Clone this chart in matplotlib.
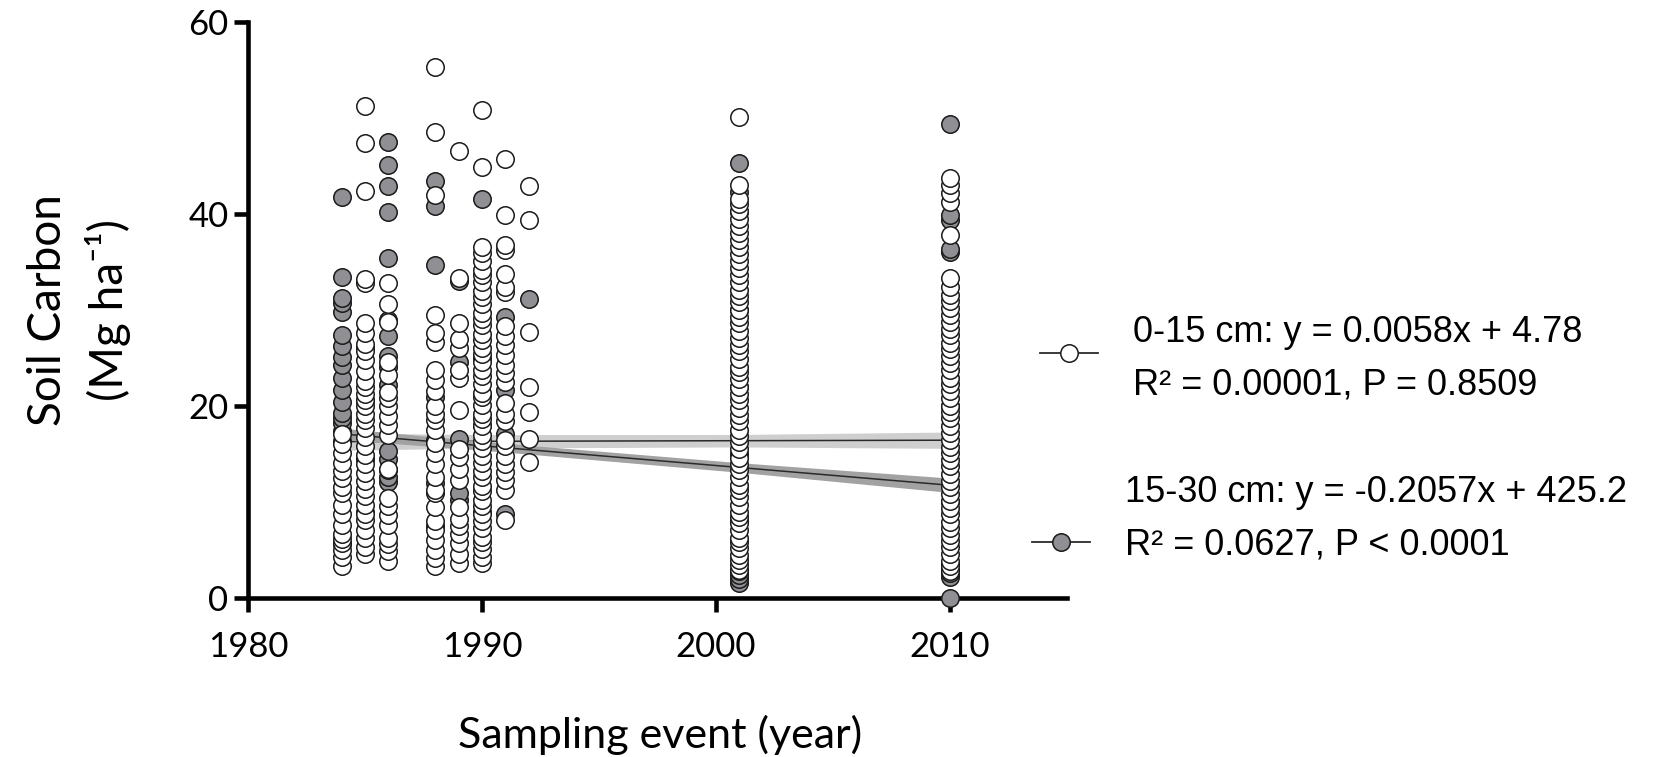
import matplotlib
matplotlib.use("Agg")
import matplotlib.pyplot as plt
import numpy as np

# ---- soil carbon (Mg ha-1) by sampling year, 0-15 cm depth ----
open_1984 = [3.3, 4.3, 5.0, 5.7, 6.1, 6.7, 7.6, 8.8, 9.7, 10.9, 11.6, 12.5, 13.2, 14.1, 15.1, 16.0, 17.1]
open_1985 = [4.6, 5.3, 6.2, 7.1, 8.1, 8.8, 9.7, 10.6, 11.4, 12.2, 13.0, 14.0, 14.9, 15.8, 16.8, 17.7,
             18.5, 19.2, 20.0, 20.6, 21.3, 22.0, 22.6, 23.6, 24.8, 25.7, 26.5, 27.6, 28.6, 32.8, 33.2,
             42.4, 47.4, 51.3]
open_1986 = [3.9, 4.9, 5.6, 6.3, 7.6, 8.6, 9.6, 10.4, 13.4, 17.0, 18.0, 19.0, 20.0, 20.8, 21.5, 23.2,
             24.6, 28.7, 30.6, 32.8]
open_1988 = [3.3, 4.2, 5.0, 6.0, 7.1, 8.0, 9.5, 10.9, 11.3, 12.6, 14.0, 15.1, 16.1, 17.5, 18.5, 19.2,
             20.0, 21.6, 22.7, 23.7, 26.7, 27.6, 29.5, 42.0, 48.5, 55.3]
open_1989 = [3.6, 4.6, 5.7, 6.7, 7.5, 8.2, 9.5, 12.3, 13.4, 14.7, 15.5, 19.6, 22.9, 23.8, 26.0, 27.0,
             28.6, 33.3, 46.6]
open_1990 = [3.6, 4.3, 5.1, 5.8, 6.4, 7.3, 8.0, 8.7, 9.6, 10.2, 11.1, 11.7, 12.6, 13.2, 14.1, 14.8,
             15.6, 16.4, 17.0, 17.9, 18.6, 19.2, 20.1, 20.9, 21.4, 22.3, 23.1, 23.7, 24.6, 25.4, 26.0,
             26.9, 27.5, 28.4, 29.1, 29.7, 30.6, 31.4, 32.0, 32.9, 33.6, 34.2, 35.1, 35.9, 36.6, 44.9,
             50.8]
open_1991 = [8.1, 11.3, 12.3, 13.1, 14.0, 14.8, 15.8, 16.5, 18.4, 19.2, 20.3, 22.5, 23.4, 24.3, 25.3,
             26.4, 27.3, 28.3, 31.9, 32.4, 33.8, 36.3, 36.8, 39.9, 45.7]
open_1992 = [14.2, 16.6, 19.4, 22.0, 27.7, 39.4, 42.9]
open_2001 = [2.9, 3.4, 4.0, 4.5, 5.2, 5.8, 6.3, 7.1, 7.8, 8.4, 9.0, 9.7, 10.5, 11.2, 11.8, 12.6, 13.3,
             14.0, 14.6, 15.5, 16.2, 16.9, 17.5, 18.4, 19.1, 19.8, 20.6, 21.3, 22.0, 22.8, 23.5, 24.1,
             24.9, 25.7, 26.4, 27.1, 27.8, 28.6, 29.3, 30.0, 30.8, 31.5, 32.1, 32.9, 33.6, 34.4, 35.1,
             35.8, 36.6, 37.3, 38.0, 38.8, 39.5, 40.3, 41.0, 41.6, 43.0, 50.1]
open_2010 = [2.8, 3.3, 3.9, 4.6, 5.3, 5.9, 6.6, 7.3, 7.9, 8.7, 9.4, 10.1, 10.8, 11.6, 12.2, 12.9, 13.7,
             14.4, 15.1, 15.7, 16.5, 17.2, 17.9, 18.7, 19.4, 20.0, 20.8, 21.6, 22.3, 22.9, 23.7, 24.5,
             25.2, 25.9, 26.6, 27.4, 28.0, 28.8, 29.5, 30.2, 30.9, 31.6, 32.4, 33.3, 37.8, 41.3, 42.2,
             43.0, 43.7]

# ---- 15-30 cm depth ----
gray_1984 = [5.6, 16.4, 17.4, 18.2, 18.7, 19.3, 20.4, 21.7, 22.9, 24.3, 25.1, 26.2, 27.4, 29.8, 30.7,
             31.2, 33.4, 41.8]
gray_1985 = [9.0, 14.5, 20.5, 26.0, 33.0]
gray_1986 = [12.1, 12.6, 13.3, 14.5, 15.3, 22.2, 24.1, 25.2, 27.3, 29.0, 35.4, 40.2, 42.9, 45.1, 47.5]
gray_1988 = [7.5, 12.0, 16.5, 20.9, 34.7, 40.8, 43.4]
gray_1989 = [10.2, 10.9, 16.6, 24.6, 33.0]
gray_1990 = [9.0, 18.0, 25.0, 41.6]
gray_1991 = [8.8, 17.1, 21.7, 29.3]
gray_1992 = [31.1]
gray_2001 = [1.6, 2.0, 2.4, 2.8, 8.0, 15.0, 22.0, 30.0, 40.2, 42.3, 45.3]
gray_2010 = [0.0, 2.2, 2.6, 3.0, 3.5, 10.0, 20.0, 36.0, 36.4, 39.4, 39.9, 49.4]

years = [1984, 1985, 1986, 1988, 1989, 1990, 1991, 1992, 2001, 2010]
shallow = [open_1984, open_1985, open_1986, open_1988, open_1989,
           open_1990, open_1991, open_1992, open_2001, open_2010]
deep = [gray_1984, gray_1985, gray_1986, gray_1988, gray_1989,
        gray_1990, gray_1991, gray_1992, gray_2001, gray_2010]

# regression fits (slope, intercept) and 95% band half-widths along the fit
fit_shallow = (0.0058, 4.78)
fit_deep = (-0.2057, 425.2)
band_years = [1984, 1990, 2001, 2010]
band_shallow = [0.9, 0.7, 0.65, 0.85]
band_deep = [0.6, 0.45, 0.5, 0.75]

legend_lines = [
    ("0-15 cm: y = 0.0058x + 4.78", "R\u00b2 = 0.00001, P = 0.8509"),
    ("15-30 cm: y = -0.2057x + 425.2", "R\u00b2 = 0.0627, P < 0.0001"),
]

W, H = 1677, 757
fig = plt.figure(figsize=(W / 100, H / 100), dpi=100)
fig.patch.set_facecolor("white")

ax = fig.add_axes([248 / W, 1 - 598 / H, (1067 - 248) / W, (598 - 22) / H])

tick_font = "Lato"
legend_font = "Liberation Sans"
white_fc = "white"
gray_fc = "#8f8f94"
edge = "#1a1a1a"
msize = 158

# regression lines with confidence bands (beneath the points)
fx = np.array(band_years, dtype=float)
for (m, b), hw, band_col, z in [(fit_shallow, band_shallow, "#cfcfcf", 1),
                                (fit_deep, band_deep, "#a2a2a2", 1.1)]:
    fy = m * fx + b
    ax.fill_between(fx, fy - np.array(hw), fy + np.array(hw), color=band_col, lw=0, zorder=z)
    ax.plot(fx, fy, color="#2a2a2a", lw=1.1, zorder=z + 0.05)

# points: deep layer first, shallow layer on top
for yr, vals in zip(years, deep):
    ax.scatter([yr] * len(vals), vals, s=msize, facecolor=gray_fc, edgecolor=edge,
               linewidths=1.1, zorder=3, clip_on=False)
for yr, vals in zip(years, shallow):
    ax.scatter([yr] * len(vals), vals, s=msize, facecolor=white_fc, edgecolor=edge,
               linewidths=1.1, zorder=4, clip_on=False)

ax.set_xlim(1980, 2015)
ax.set_ylim(0, 60)
ax.set_xticks([1980, 1990, 2000, 2010])
ax.set_yticks([0, 20, 40, 60])
for s in ["top", "right"]:
    ax.spines[s].set_visible(False)
for s in ["left", "bottom"]:
    ax.spines[s].set_linewidth(3.3)
    ax.spines[s].set_zorder(2.5)
ax.tick_params(axis="both", length=10, width=3.3, direction="out")
ax.tick_params(axis="x", pad=14)
ax.tick_params(axis="y", pad=4)
for lab in ax.get_xticklabels() + ax.get_yticklabels():
    lab.set_fontfamily(tick_font)
    lab.set_fontsize(25)

# axis titles
fig.text(660 / W, 1 - 735 / H, "Sampling event (year)", family=tick_font, fontsize=31,
         ha="center", va="center")
fig.text(48 / W, 1 - 310 / H, "Soil Carbon", family=tick_font, fontsize=33,
         rotation=90, ha="center", va="center")
fig.text(108 / W, 1 - 310 / H, "(Mg ha\u207b\u00b9)", family=[tick_font, "DejaVu Sans"],
         fontsize=33, rotation=90, ha="center", va="center")

# legend drawn in pixel space
lax = fig.add_axes([0, 0, 1, 1], facecolor="none")
lax.set_xlim(0, W)
lax.set_ylim(H, 0)
lax.axis("off")
keys = [(1040, 1098, 1069, 353, white_fc), (1032, 1090, 1061, 542, gray_fc)]
text_pos = [(1133, 332, 385), (1125, 493, 545)]
for (x0, x1, xc, yc, fc), (tx, y1, y2), (l1, l2) in zip(keys, text_pos, legend_lines):
    lax.plot([x0, x1], [yc, yc], color="#2a2a2a", lw=1.3)
    lax.scatter([xc], [yc], s=msize, facecolor=fc, edgecolor=edge, linewidths=1.1, zorder=3)
    lax.text(tx, y1, l1, family=legend_font, fontsize=26, ha="left", va="center")
    lax.text(tx, y2, l2, family=legend_font, fontsize=26, ha="left", va="center")

fig.savefig("out.png", dpi=100, facecolor="white")
